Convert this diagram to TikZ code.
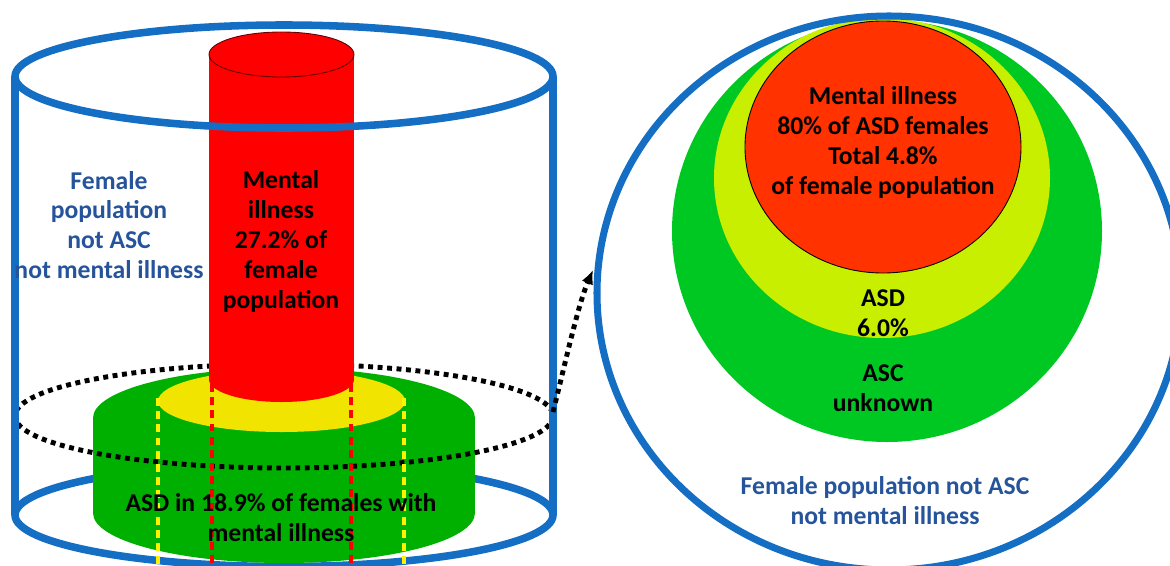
\documentclass[tikz,border=0pt]{standalone}
\usepackage{fontspec}
\setmainfont{Carlito}
\usepackage{xcolor}
\usetikzlibrary{arrows.meta}
\definecolor{cylblue}{RGB}{20,110,195}
\definecolor{txtblue}{RGB}{38,84,155}
\definecolor{diskgreen}{RGB}{0,176,0}
\definecolor{diskyellow}{RGB}{240,228,0}
\definecolor{ballgreen}{RGB}{0,200,35}
\definecolor{balllime}{RGB}{200,238,0}
\definecolor{ballred}{RGB}{255,50,0}

\begin{document}
\begin{tikzpicture}[x=0.02cm,y=-0.02cm,
  darktext/.style={align=center,font=\bfseries\fontsize{14.6}{17}\selectfont},
  bluetext/.style={darktext,text=txtblue},
  rim/.style={cylblue,line width=4.3pt},
  dots/.style={line width=2.8pt,dash pattern=on 2.8pt off 2.6pt},
  wall/.style={line width=2pt,dash pattern=on 4.5pt off 3pt}]
\clip (0,0) rectangle (1170,565);

% Outer cylinder, bottom
\draw[rim] (284,515) ellipse [x radius=269,y radius=51.5];

% Green disk
\fill[diskgreen] (284,513) ellipse [x radius=191,y radius=50];
\fill[diskgreen] (93,418) rectangle (475,513);
\fill[diskgreen] (284,418) ellipse [x radius=191,y radius=50];
\fill[diskyellow] (281.5,401) ellipse [x radius=123.5,y radius=31];

% Dotted cut
\draw[dots] (284,416) ellipse [x radius=269,y radius=52];

% Red column
\fill[red] (281.5,379.5) ellipse [x radius=72.5,y radius=22.5];
\fill[red] (209,54.5) rectangle (354,379.5);
\filldraw[fill=red,draw=black!60!red,line width=0.5pt] (281.5,54.5) ellipse [x radius=72.5,y radius=22.5];

% Inner walls
\foreach \x in {158,404} {
    \draw[wall,yellow] (\x,398) -- (\x,565);
}
\foreach \x in {212,351} {
    \draw[wall,red] (\x,384) -- (\x,565);
}

% Outer cylinder, sides and top
\draw[rim] (15,76.5) -- (15,515) (553,76.5) -- (553,515);
\draw[rim] (284,76.5) ellipse [x radius=269,y radius=51.5];

% Nested circles
\fill[ballgreen] (887,231) ellipse [x radius=215,y radius=211];
\fill[balllime] (882,178) ellipse [x radius=168,y radius=160];
\filldraw[fill=ballred,draw=black,line width=0.5pt] (883,147) ellipse [x radius=138,y radius=126];
\draw[cylblue,line width=4pt] (889,293) ellipse [x radius=292,y radius=277];

% Arrow
\coordinate (ringend) at (553,412);
\coordinate (ballside) at (593,270);
\draw[dots,-{Latex[length=8pt,width=7pt]}] (ringend) .. controls (566,360) and (578,305) .. (ballside);

% Labels
\node[bluetext] (outside) at (109,225) {Female\\population\\not ASC\\not mental illness};
\node[darktext] (illness) at (281,241.5) {Mental\\illness\\27.2\% of\\female\\population};
\node[darktext] (asdshare) at (281,518) {ASD in 18.9\% of females with\\mental illness};
\node[darktext] (illball) at (883,142.5) {Mental illness\\80\% of ASD females\\Total 4.8\%\\of female population};
\node[darktext] (asdball) at (883,313) {ASD\\6.0\%};
\node[darktext] (ascball) at (883,388) {ASC\\unknown};
\node[bluetext] (restball) at (885,501) {Female population not ASC\\not mental illness};

\end{tikzpicture}
\end{document}
